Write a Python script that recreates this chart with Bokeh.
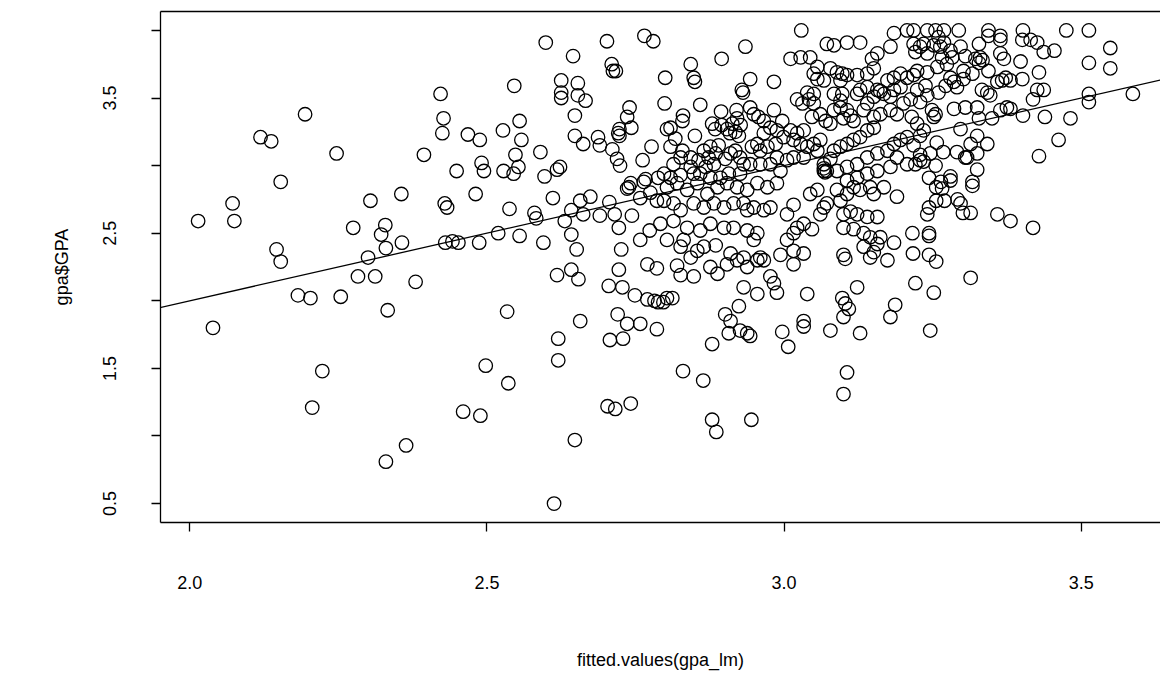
from bokeh.plotting import figure
from bokeh.models import Range1d, FixedTicker, CustomJSTickFormatter, Slope, LinearAxis
from bokeh.embed import file_html
from bokeh.resources import INLINE

# ---- data: fitted.values(gpa_lm) vs gpa$GPA ----
fx_a = [2.194,2.119,2.137,2.247,2.153, 2.072,2.014,2.075,2.146,2.153, 2.039,2.182,2.203,2.254,2.275,
        2.304,2.356,2.329,2.322,2.330, 2.300,2.357,2.283,2.312,2.333, 2.380,2.223,2.206,2.330,2.364]
gy_a = [3.38,3.21,3.18,3.09,2.88, 2.72,2.59,2.59,2.38,2.29, 1.80,2.04,2.02,2.03,2.54,
        2.74,2.79,2.56,2.49,2.39, 2.32,2.43,2.18,2.18,1.93, 2.14,1.48,1.21,0.81,0.93]

fx_b = [2.599,2.645,2.702,2.765,2.780, 2.710,2.717,2.712,2.625,2.653, 2.625,2.625,2.653,2.666,2.546,
        2.422,2.427,2.425,2.468,2.488, 2.527,2.555,2.558,2.548,2.553, 2.545,2.528,2.491,2.495,2.449,
        2.394,2.590,2.597,2.618,2.623, 2.648,2.648,2.662,2.687,2.690, 2.711,2.719,2.724,2.723,2.723,
        2.721,2.740,2.736,2.743,2.777, 2.762,2.742,2.767,2.788]
gy_b = [3.91,3.81,3.92,3.96,3.92, 3.75,3.70,3.70,3.63,3.61, 3.54,3.50,3.52,3.48,3.59,
        3.53,3.35,3.24,3.23,3.19, 3.26,3.33,3.19,3.08,2.99, 2.94,2.96,3.02,2.96,2.96,
        3.08,3.10,2.92,2.97,2.99, 3.37,3.22,3.16,3.21,3.15, 3.12,3.05,3.00,3.27,3.22,
        3.24,3.43,3.36,3.28,3.14, 3.04,2.87,2.90,2.91]

fx_c = [2.481,2.429,2.433,2.538,2.580, 2.583,2.611,2.430,2.442,2.452, 2.487,2.519,2.555,2.595,2.631,
        2.642,2.657,2.674,2.662,2.690, 2.706,2.715,2.722,2.642,2.651, 2.618,2.642,2.654,2.726,2.722,
        2.705,2.728,2.749,2.770,2.782, 2.788,2.744,2.758,2.774,2.770, 2.786,2.758,2.775,2.786,2.739,
        2.736,2.764,2.534,2.657,2.620, 2.720,2.736,2.758,2.707,2.729, 2.786]
gy_c = [2.79,2.72,2.69,2.68,2.65, 2.61,2.76,2.43,2.44,2.43, 2.43,2.50,2.48,2.43,2.59,
        2.67,2.74,2.77,2.64,2.63, 2.73,2.64,2.54,2.49,2.38, 2.19,2.23,2.16,2.38,2.23,
        2.11,2.10,2.04,2.01,2.00, 1.99,2.63,2.45,2.52,2.27, 2.24,2.76,2.80,2.74,2.84,
        2.83,2.88,1.92,1.85,1.72, 1.90,1.83,1.83,1.71,1.72, 1.79]

fx_d = [2.498,2.536,2.460,2.489,2.620, 2.648,2.613,2.703,2.716,2.742, 2.879,3.007,2.830,2.864,2.879,
        2.886,2.945,3.106,3.100]
gy_d = [1.52,1.39,1.18,1.15,1.56, 0.97,0.50,1.22,1.20,1.24, 1.68,1.66,1.48,1.41,1.12,
        1.03,1.12,1.47,1.31]

fx_e = [3.317,3.256,3.266,3.280,3.256, 3.270,3.292,3.297,3.301,3.314, 3.244,3.241,3.359,3.381,3.419,
        3.216,3.244,3.244,3.217,3.244, 3.256,3.314,3.221,3.252,3.246]
gy_e = [2.85,2.84,2.83,2.89,2.74, 2.74,2.75,2.72,2.65,2.65, 2.69,2.64,2.64,2.59,2.54,
        2.50,2.50,2.48,2.35,2.34, 2.29,2.17,2.13,2.06,1.78]

fx_f = [3.475,3.513,3.549,3.513,3.549, 3.513,3.513,3.587,3.482,3.462, 3.429,3.439,3.402,3.437,3.426,
        3.419,3.429,3.401,3.398,3.455, 3.437,3.426,3.415,3.402,3.401, 3.381,3.375,3.381,3.364,3.350,
        3.328,3.297,3.364,3.370,3.344, 3.344,3.364,3.364,3.328,3.322, 3.330,3.328,3.334,3.344,3.373,
        3.359,3.367,3.333,3.342,3.347, 3.325,3.305,3.286,3.342,3.325, 3.314,3.325,3.308,3.325,3.317,
        3.280,3.249,3.255,3.252,3.291, 3.305,3.268,3.257,3.246,3.229, 3.255,3.244,3.264,3.235,3.229,
        3.224,3.215,3.218,3.229,3.221, 3.235]
gy_f = [4.00,4.00,3.87,3.76,3.72, 3.53,3.47,3.53,3.35,3.19, 3.07,3.36,3.37,3.56,3.56,
        3.49,3.69,3.64,3.77,3.85, 3.84,3.91,3.93,4.00,3.93, 3.63,3.43,3.42,3.41,3.35,
        3.35,3.27,3.83,3.79,4.00, 3.96,3.96,3.93,3.90,3.79, 3.80,3.76,3.78,3.70,3.65,
        3.62,3.63,3.56,3.54,3.52, 3.43,3.43,3.42,3.16,3.22, 3.16,3.09,3.06,2.97,2.88,
        2.92,3.41,3.38,3.36,3.10, 3.06,3.10,3.17,3.09,3.04, 3.00,2.91,2.88,3.26,3.22,
        3.31,3.36,3.15,3.08,3.01, 3.03]

fx_g = [3.218,3.241,3.255,3.269,3.294, 3.260,3.269,3.263,3.252,3.235, 3.229,3.218,3.280,3.297,3.305,
        3.283,3.266,3.241,3.221,3.302, 3.274,3.258,3.241,3.224,3.218, 3.280,3.286,3.272,3.291,3.302,
        3.317,3.238,3.224,3.241,3.260, 3.213,3.229]
gy_g = [4.00,4.00,4.00,4.00,4.00, 3.95,3.91,3.88,3.89,3.90, 3.88,3.90,3.85,3.88,3.81,
        3.80,3.80,3.83,3.84,3.70, 3.75,3.73,3.69,3.70,3.67, 3.65,3.62,3.59,3.58,3.64,
        3.68,3.59,3.56,3.52,3.54, 3.49,3.47]

fx_h1 = [3.029,2.935,2.895,2.843,2.848, 2.850,2.800,2.799,2.943,2.929, 2.931,2.983,2.859,2.894,2.920,
         2.921,2.913,2.927,2.830,2.829, 2.803,2.809,2.850,2.817,2.809, 2.829,2.843,2.798,2.814,2.826,
         2.848,2.809]
gy_h1 = [4.00,3.88,3.79,3.75,3.65, 3.62,3.65,3.46,3.64,3.56, 3.54,3.62,3.45,3.40,3.41,
         3.35,3.31,3.30,3.37,3.33, 3.27,3.28,3.22,3.20,3.14, 3.11,3.06,2.94,3.01,2.93,
         2.94,2.91]

fx_h2 = [2.879,2.884,2.895,2.904,2.909, 2.918,2.924,2.865,2.876,2.885, 2.890,2.873,2.856,2.868,2.882,
         2.901,2.910,2.918,2.926,2.932]
gy_h2 = [3.31,3.27,3.30,3.27,3.24, 3.25,3.22,3.11,3.14,3.09, 3.15,3.06,3.04,2.99,3.01,
         3.05,3.09,3.11,3.06,3.01]

fx_h3 = [2.949,2.957,2.966,2.943,2.983, 2.997,2.977,2.988,2.966,2.955, 2.946,2.960,2.972,2.986,2.999,
         3.011,3.022,3.033,3.016,3.028, 3.039,3.050,3.061,3.056,3.033, 3.016,3.005,2.988,2.977,2.994,
         2.960,2.943,2.926,2.907,2.893, 2.876,2.859,2.843,2.826]
gy_h3 = [3.38,3.36,3.33,3.43,3.41, 3.33,3.28,3.26,3.24,3.16, 3.14,3.11,3.14,3.16,3.21,
         3.26,3.24,3.26,3.19,3.16, 3.14,3.16,3.19,3.11,3.06, 3.06,3.04,3.06,3.01,2.96,
         3.01,3.01,2.94,2.94,2.91, 2.91,2.94,2.99,3.06]

fx_h4 = [3.011,3.028,3.044,3.056,3.050, 3.056,3.067,3.078,3.089,3.098, 3.106,3.095,3.123,3.140,3.151,
         3.148,3.157,3.179,3.185,3.207, 3.072,3.084,3.106,3.128,3.022, 3.031,3.042,3.050,3.039,3.050]
gy_h4 = [3.79,3.80,3.80,3.73,3.68, 3.64,3.63,3.72,3.69,3.68, 3.67,3.63,3.67,3.68,3.72,
         3.79,3.83,3.88,3.98,4.00, 3.90,3.89,3.91,3.91,3.49, 3.46,3.49,3.46,3.54,3.53]

fx_h5 = [3.047,3.061,3.070,3.078,3.084, 3.095,3.106,3.112,3.117,3.100, 3.084,3.098,3.095,3.123,3.128,
         3.140,3.157,3.168,3.179,3.185, 3.196,3.207,3.196,3.185,3.174, 3.162,3.151,3.140,3.134,3.151,
         3.162,3.179,3.190,3.201,3.151, 3.140,3.128,3.117,3.106,3.095, 3.084,3.078,3.067,3.072,3.089,
         3.106,3.123,3.140,3.157,3.174, 3.185,3.196,3.207,3.190,3.207, 3.179,3.157,3.140,3.123,3.106,
         3.067,3.067,3.069]
gy_h5 = [3.36,3.38,3.33,3.31,3.41, 3.43,3.41,3.37,3.33,3.35, 3.53,3.53,3.48,3.53,3.56,
         3.58,3.56,3.53,3.51,3.56, 3.58,3.65,3.68,3.65,3.63, 3.55,3.51,3.46,3.41,3.36,
         3.38,3.41,3.38,3.46,3.28, 3.26,3.21,3.19,3.16,3.14, 3.11,3.05,3.01,2.96,2.96,
         2.99,3.01,3.06,3.09,3.11, 3.16,3.19,3.21,3.06,3.01, 2.99,2.96,2.94,2.91,2.89,
         2.98,2.96,2.95]

fx_i1 = [2.803,2.820,2.837,2.854,2.871, 2.888,2.904,2.921,2.938,2.955, 2.972,2.988,2.798,2.814,2.826,
         2.848,2.865,2.882,2.899,2.915, 2.932,2.938,2.949,2.966,2.977]
gy_i1 = [2.84,2.87,2.82,2.87,2.79, 2.84,2.87,2.84,2.82,2.87, 2.84,2.87,2.74,2.72,2.67,
         2.72,2.69,2.72,2.69,2.72, 2.72,2.67,2.69,2.67,2.69]

fx_i2 = [2.792,2.814,2.837,2.859,2.876, 2.899,2.915,2.938,2.955,2.949, 2.803,2.826,2.831,2.843,2.854,
         2.865,2.885,2.910,2.904,2.921, 2.932,2.938,2.955,2.966,2.960, 2.820,2.826,2.848,2.876,2.888]
gy_i2 = [2.57,2.59,2.54,2.52,2.57, 2.54,2.54,2.52,2.50,2.45, 2.45,2.40,2.45,2.32,2.37,
         2.40,2.41,2.35,2.27,2.30, 2.32,2.25,2.30,2.30,2.32, 2.26,2.19,2.18,2.25,2.20]

fx_i3 = [2.932,2.955,2.977,2.983,2.988, 2.994,3.016,3.005,3.022,3.016, 3.005,3.033,3.047,3.016,3.033,
         3.016,3.044,2.803,2.812,2.797, 2.901,2.910,2.924,2.926,2.938, 2.943,2.907,2.997,3.033,3.033,
         3.039,3.078,3.098,3.103,3.109, 3.100,3.123,3.128,3.187,3.179]
gy_i3 = [2.10,2.05,2.18,2.13,2.06, 2.34,2.71,2.64,2.54,2.50, 2.45,2.57,2.53,2.37,2.35,
         2.27,2.79,2.02,2.02,1.99, 1.90,1.85,1.96,1.78,1.76, 1.74,1.76,1.77,1.85,1.81,
         2.05,1.78,2.02,1.98,1.94, 1.88,2.10,1.76,1.97,1.88]

fx_i4 = [3.067,3.061,3.072,3.056,3.089, 3.095,3.106,3.117,3.128,3.151, 3.145,3.168,3.190,3.100,3.112,
         3.123,3.140,3.157,3.117,3.100, 3.134,3.145,3.157,3.174,3.185, 3.162,3.134,3.151,3.145,3.100,
         3.103]
gy_i4 = [2.69,2.64,2.72,2.82,2.82, 2.74,2.79,2.84,2.82,2.79, 2.84,2.84,2.77,2.64,2.66,
         2.64,2.62,2.62,2.53,2.54, 2.50,2.47,2.42,2.30,2.43, 2.47,2.40,2.36,2.32,2.34,
         2.31]

x_ticks = [2.0, 2.5, 3.0, 3.5]
y_ticks = [0.5, 1.0, 1.5, 2.0, 2.5, 3.0, 3.5, 4.0]
lm_intercept = 0.0   # regression of GPA on its own fitted values
lm_slope = 1.0

fx_groups = [fx_a, fx_b, fx_c, fx_d, fx_e, fx_f, fx_g, fx_h1, fx_h2, fx_h3, fx_h4, fx_h5,
             fx_i1, fx_i2, fx_i3, fx_i4]
gy_groups = [gy_a, gy_b, gy_c, gy_d, gy_e, gy_f, gy_g, gy_h1, gy_h2, gy_h3, gy_h4, gy_h5,
             gy_i1, gy_i2, gy_i3, gy_i4]
fitted, gpa = [], []
for fxs, gys in zip(fx_groups, gy_groups):
    n = min(len(fxs), len(gys))
    fitted += fxs[:n]
    gpa += gys[:n]

FONT = "Liberation Sans"

p = figure(width=1160, height=673, output_backend="svg", toolbar_location=None,
           x_range=Range1d(1.9507, 3.6335), y_range=Range1d(0.36, 4.14),
           min_border_left=160, min_border_right=0, min_border_top=11, min_border_bottom=151)
p.grid.visible = False
p.background_fill_color = "white"
p.border_fill_color = "white"
# box: left, bottom and top edges (the right edge lies just outside the picture)
p.outline_line_color = None

bottom_axis = p.below[0]
left_axis = p.left[0]

top_edge = LinearAxis(ticker=FixedTicker(ticks=[]), axis_line_color="black", axis_line_width=1.3,
                      major_tick_line_color=None, minor_tick_line_color=None,
                      major_label_standoff=0, major_tick_out=0, major_tick_in=0)
p.add_layout(top_edge, "above")

p.scatter(fitted, gpa, marker="circle", size=13.5, fill_color=None,
          line_color="black", line_width=1.3)
p.add_layout(Slope(gradient=lm_slope, y_intercept=lm_intercept,
                   line_color="black", line_width=1.3))

bottom_axis.ticker = FixedTicker(ticks=x_ticks)
bottom_axis.formatter = CustomJSTickFormatter(code="return tick.toFixed(1);")
left_axis.ticker = FixedTicker(ticks=y_ticks)
left_axis.formatter = CustomJSTickFormatter(
    code="const k = Math.round(tick*2); return (k % 2 === 1) ? tick.toFixed(1) : '';")
left_axis.major_label_orientation = "vertical"

for ax in (bottom_axis, left_axis):
    ax.axis_line_color = "black"
    ax.axis_line_width = 1.3
    ax.major_tick_line_color = "black"
    ax.major_tick_line_width = 1.3
    ax.major_tick_out = 9
    ax.major_tick_in = 0
    ax.minor_tick_line_color = None
    ax.major_label_text_font = FONT
    ax.major_label_text_font_size = "18px"
    ax.major_label_text_color = "black"
    ax.axis_label_text_font = FONT
    ax.axis_label_text_font_size = "18px"
    ax.axis_label_text_font_style = "normal"
    ax.axis_label_text_color = "black"

bottom_axis.axis_label = "fitted.values(gpa_lm)"
left_axis.axis_label = "gpa$GPA"
bottom_axis.major_label_standoff = 44
bottom_axis.axis_label_standoff = 58
left_axis.major_label_standoff = 35
left_axis.axis_label_standoff = 29

open("out.html", "w").write(file_html(p, INLINE))
